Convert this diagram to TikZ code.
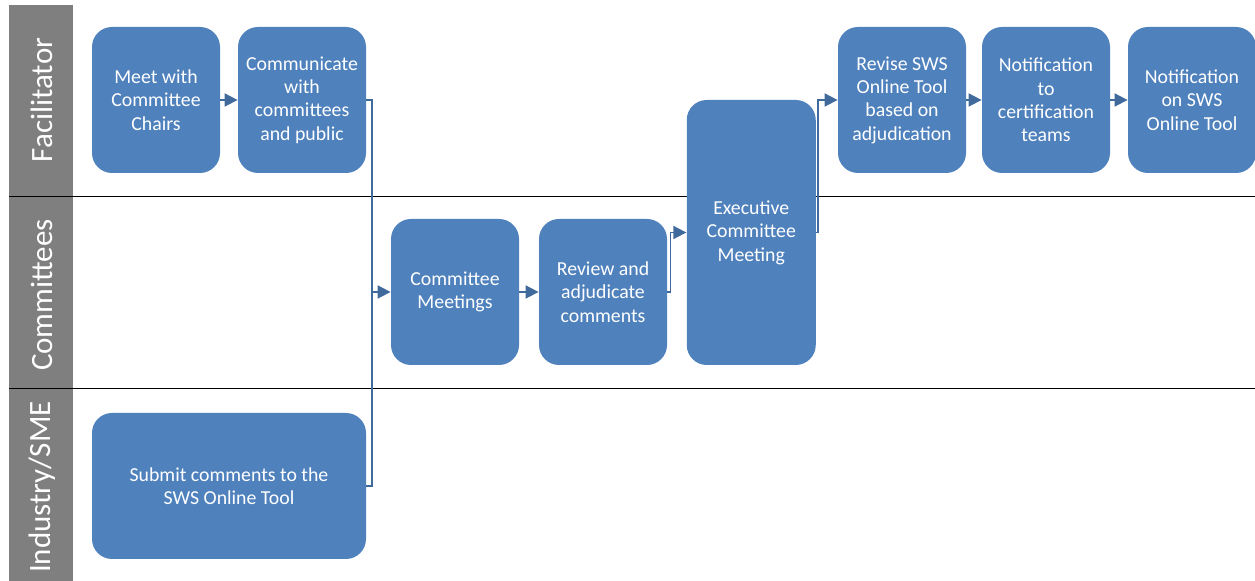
\documentclass[tikz,border=0pt]{standalone}
\usepackage{fontspec}
\setmainfont{Carlito}
\usetikzlibrary{arrows.meta}
\definecolor{boxblue}{HTML}{4F81BD}
\definecolor{lineblue}{HTML}{40699C}
\definecolor{bandgray}{HTML}{7F7F7F}
\tikzset{
  stepbox/.style={rectangle, rounded corners=10pt, fill=boxblue, text=white,
    font=\fontsize{9.9}{11.7}\selectfont, align=center, inner sep=2pt},
  connline/.style={draw=lineblue, line width=0.9pt},
  conn/.style={connline, -{Triangle[length=6.5pt,width=6.5pt]}},
  lanetext/.style={text=white, rotate=90, font=\fontsize{15.5}{18}\selectfont},
  laneline/.style={draw=black, line width=0.5pt}
}
\begin{document}
\begin{tikzpicture}[x=0.5pt,y=-0.5pt]
\useasboundingbox (0,0) rectangle (1255,581);
% gray band
\fill[bandgray] (9,5) rectangle (73,581);
\draw[laneline] (9,197) -- (1255,197);
\draw[laneline] (9,389) -- (1255,389);
\node[lanetext] (lf) at (42,100) {Facilitator};
\node[lanetext] (lc) at (42,295) {Committees};
\node[lanetext] (li) at (42,487) {Industry/SME};
% boxes
\node[stepbox, minimum width=64pt, minimum height=73pt] (meet) at (156,100) {Meet with\\Committee\\Chairs};
\node[stepbox, minimum width=64pt, minimum height=73pt] (comm) at (302,100) {Communicate\\with\\committees\\and public};
\node[stepbox, minimum width=64pt, minimum height=73pt] (cm) at (455,292) {Committee\\Meetings};
\node[stepbox, minimum width=64pt, minimum height=73pt] (rev) at (603,292) {Review and\\adjudicate\\comments};
\node[stepbox, minimum width=64.5pt, minimum height=132.5pt] (exec) at (751.25,232.5) {Executive\\Committee\\Meeting};
\node[stepbox, minimum width=64pt, minimum height=73pt] (revise) at (902,100) {Revise SWS\\Online Tool\\based on\\adjudication};
\node[stepbox, minimum width=64pt, minimum height=73pt] (notc) at (1046,100) {Notification\\to\\certification\\teams};
\node[stepbox, minimum width=64pt, minimum height=73pt] (nots) at (1192,100) {Notification\\on SWS\\Online Tool};
\node[stepbox, minimum width=137pt, minimum height=73pt] (sub) at (229,486) {Submit comments to the\\SWS Online Tool};
% junction
\coordinate (j) at (372,292);
% connectors
\draw[conn] (meet) -- (comm);
\draw[connline] (sub.east) -| (j);
\draw[conn] (comm.east) -| (j) -- (cm.west);
\draw[conn] (cm) -- (rev);
\draw[conn] (rev.east) -- ++(3,0) |- (exec.west);
\draw[conn] (exec.east) -- ++(2,0) |- (revise.west);
\draw[conn] (revise) -- (notc);
\draw[conn] (notc) -- (nots);
\end{tikzpicture}
\end{document}
